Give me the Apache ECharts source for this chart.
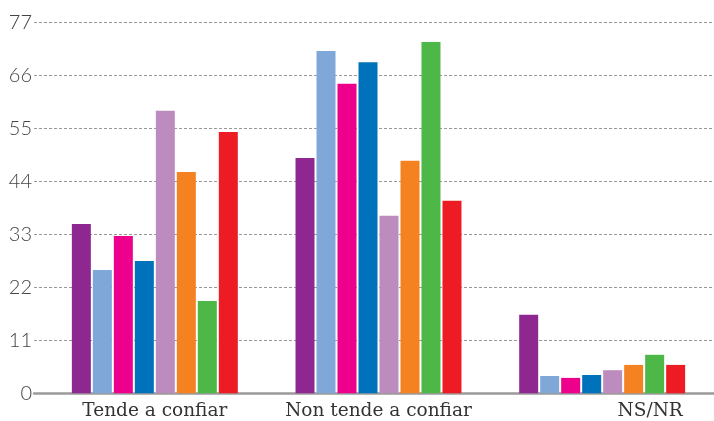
<!DOCTYPE html>
<html>
<head>
<meta charset="utf-8">
<script src="https://cdn.jsdelivr.net/npm/echarts@6/dist/echarts.min.js"></script>
<style>
html,body{margin:0;padding:0;background:#fff;}
#c{width:714px;height:421px;}
</style>
</head>
<body>
<div id="c"></div>
<script>
var categories = ['Tende a confiar', 'Non tende a confiar', 'NS/NR'];
var yTicks = [0, 11, 22, 33, 44, 55, 66, 77];
var seriesNames = ['Serie 1', 'Serie 2', 'Serie 3', 'Serie 4', 'Serie 5', 'Serie 6', 'Serie 7', 'Serie 8'];
var s1 = [35.2, 48.9, 16.3];
var s2 = [25.6, 71.1, 3.6];
var s3 = [32.7, 64.3, 3.2];
var s4 = [27.5, 68.8, 3.8];
var s5 = [58.7, 36.9, 4.8];
var s6 = [46.0, 48.3, 5.9];
var s7 = [19.2, 73.0, 8.0];
var s8 = [54.3, 40.0, 5.9];
var seriesValues = [s1, s2, s3, s4, s5, s6, s7, s8];
var colors = ['#8E278F', '#7FA7D8', '#EC008C', '#0072BC', '#BD8CBF', '#F58220', '#4DB848', '#ED1C24'];

var chart = echarts.init(document.getElementById('c'));
var yMin = yTicks[0], yMax = yTicks[yTicks.length - 1], yInt = yTicks[1] - yTicks[0];
var xFont = '"DejaVu Serif", serif';

var series = seriesValues.map(function (vals, i) {
  return {
    name: seriesNames[i],
    type: 'bar',
    xAxisIndex: 1,
    yAxisIndex: 1,
    data: vals,
    barWidth: 19,
    barGap: '10.5%',
    itemStyle: { color: colors[i] },
    silent: true
  };
});

chart.setOption({
  animation: false,
  grid: [
    { left: 34, right: 0, top: 22.7, bottom: 27.7 },
    { left: 43, right: 0, top: 22.7, bottom: 27.7 }
  ],
  xAxis: [
    {
      type: 'category', gridIndex: 0, data: [''],
      axisLine: { show: true, lineStyle: { color: '#9a9a9a', width: 2.5 } },
      axisTick: { show: false }, axisLabel: { show: false }, splitLine: { show: false }
    },
    {
      type: 'category', gridIndex: 1, data: categories,
      axisLine: { show: false }, axisTick: { show: false },
      axisLabel: {
        interval: 0,
        hideOverlap: false,
        margin: 8,
        color: '#333',
        fontFamily: xFont,
        fontSize: 18.5,
        formatter: function (v) { return v === 'NS/NR' ? '{r|' + v + '}' : v; },
        rich: { r: { fontFamily: xFont, fontSize: 18.5, color: '#333', padding: [0, 0, 0, 96] } }
      }
    }
  ],
  yAxis: [
    {
      type: 'value', gridIndex: 0, min: yMin, max: yMax, interval: yInt,
      axisLine: { show: false }, axisTick: { show: false },
      axisLabel: { margin: 2, color: '#444', fontFamily: 'Lato', fontWeight: 300, fontSize: 20 },
      splitLine: { show: true, lineStyle: { color: '#999', width: 1, type: [3, 2] } }
    },
    {
      type: 'value', gridIndex: 1, min: yMin, max: yMax, interval: yInt,
      axisLine: { show: false }, axisTick: { show: false }, axisLabel: { show: false },
      splitLine: { show: false }
    }
  ],
  series: series
});
</script>
</body>
</html>
